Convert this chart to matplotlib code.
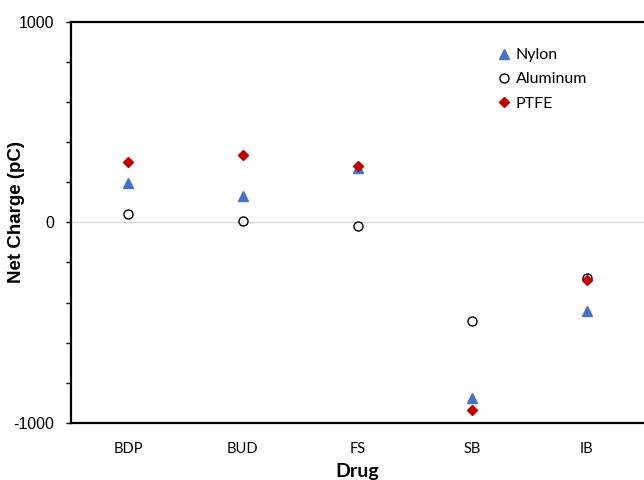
import matplotlib
matplotlib.use("Agg")
import matplotlib.pyplot as plt
import numpy as np

plt.rcParams["axes.unicode_minus"] = False

drugs = ["BDP", "BUD", "FS", "SB", "IB"]
nylon = [194, 131, 269, -877, -444]
aluminum = [41, 8, -17, -492, -276]
ptfe = [302, 336, 282, -936, -288]

fig = plt.figure(figsize=(6.44, 4.8), dpi=100)
ax = fig.add_axes([71 / 644, 1 - 423 / 480, 1 - 71 / 644, (423 - 21.7) / 480])

x = np.arange(len(drugs))
ax.plot(x, nylon, linestyle="none", marker="^", markersize=6.5,
        color="#4472C4", label="Nylon", zorder=3)
ax.plot(x, aluminum, linestyle="none", marker="o", markersize=6.5,
        markerfacecolor="white", markeredgecolor="black", markeredgewidth=1.0,
        label="Aluminum", zorder=3)
ax.plot(x, ptfe, linestyle="none", marker="D", markersize=5,
        color="#C00000", label="PTFE", zorder=4)

ax.set_xlim(-0.5, len(drugs) - 0.5)
ax.set_ylim(-1000, 1000)
ax.axhline(0, color="#d9d9d9", linewidth=1, zorder=1)

# labels only at -1000/0/1000, small ticks every 200
ax.set_yticks([-1000, 0, 1000])
ax.set_yticks(np.arange(-1000, 1001, 200), minor=True)
ax.tick_params(axis="y", which="both", direction="out", length=3.6, width=1,
               labelsize=11.5, pad=8.6, labelfontfamily="Liberation Sans")
ax.set_xticks(x)
ax.set_xticklabels(drugs, family="Lato", fontsize=10.5)
ax.tick_params(axis="x", length=0, pad=14)

for s in ["top", "bottom", "left"]:
    ax.spines[s].set_linewidth(1.6)
ax.spines["right"].set_visible(False)

ax.set_ylabel("Net Charge (pC)", family="Liberation Sans", fontweight="bold",
              fontsize=13.5)
ax.yaxis.set_label_coords(-0.08, 0.526)
ax.set_xlabel("Drug", family="Lato", fontweight="bold", fontsize=14)
ax.xaxis.set_label_coords(0.5, -0.1)

leg = ax.legend(loc="upper left", bbox_to_anchor=(0.733, 0.95), frameon=False,
                prop={"family": "Lato", "size": 11.5}, handlelength=0.8,
                handletextpad=0.35, labelspacing=0.62, borderaxespad=0)

fig.savefig("out.png", dpi=100)
